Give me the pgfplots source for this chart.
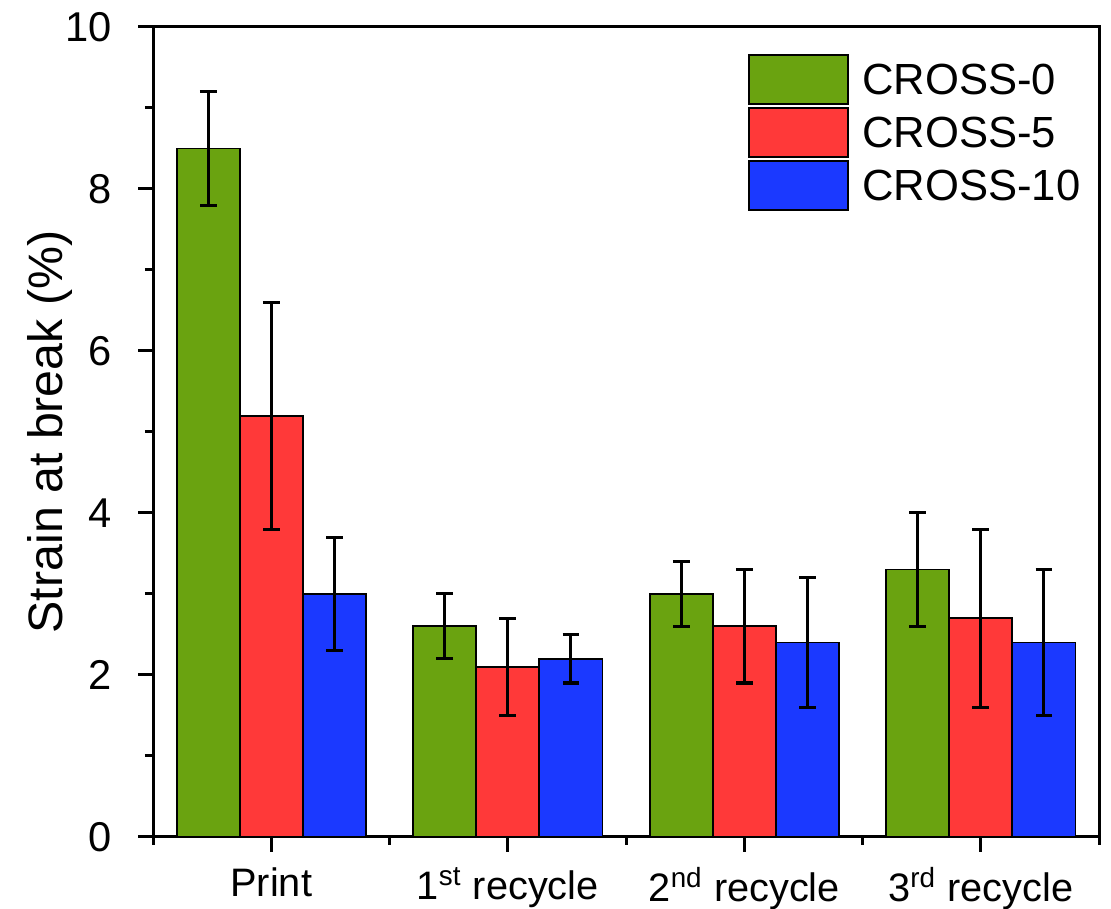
\documentclass[border=0pt]{standalone}
\usepackage{pgfplots}
\pgfplotsset{compat=1.18}
\usepackage{fontspec}
\setmainfont{Liberation Sans}
\definecolor{cgreen}{RGB}{106,163,16}
\definecolor{cred}{RGB}{255,57,57}
\definecolor{cblue}{RGB}{27,57,255}
\begin{document}
\begin{tikzpicture}
\useasboundingbox (-55.1pt,-25.9pt) rectangle (344.9pt,301.3pt);
\begin{axis}[
  at={(0,0)}, anchor=south west,
  scale only axis, width=340.6pt, height=291.6pt,
  xmin=-0.5, xmax=3.5, ymin=0, ymax=10,
  ybar=0pt, bar width=22.7pt,
  xtick={0,1,2,3},
  xticklabels={Print, 1\textsuperscript{st} recycle, 2\textsuperscript{nd} recycle, 3\textsuperscript{rd} recycle},
  minor xtick={-0.5,0.5,1.5,2.5,3.5},
  ytick={0,2,4,6,8,10},
  minor ytick={1,3,5,7,9},
  tick pos=left, tick align=outside,
  major tick length=5.4pt, minor tick length=2.9pt,
  every tick/.style={line width=1.1pt, black},
  axis line style={line width=1.1pt},
  /pgf/number format/assume math mode=true,
  ticklabel style={font=\fontsize{15}{17}\selectfont},
  xticklabel style={font=\fontsize{14.3}{16}\selectfont, yshift=-2pt},
  yticklabel style={xshift=-6pt},
  ylabel={Strain at break (\%)},
  ylabel style={font=\fontsize{17.4}{20}\selectfont, at={(axis description cs:-0.109,0.5)}, anchor=center},
  legend style={draw=none, fill=none, at={(axis description cs:0.628,0.967)}, anchor=north west,
    font=\fontsize{15.7}{18}\selectfont, row sep=0.7pt, column sep=5pt, inner sep=0pt,
    nodes={inner sep=0pt, anchor=west, text height=11pt, text depth=0pt}},
  legend cell align=left,
  legend image code/.code={\draw[#1, line width=0.7pt] (0pt,-8.8pt) rectangle (35.6pt,8.8pt);},
  error bars/error bar style={line width=1.1pt, black},
  error bars/error mark options={rotate=90, mark size=3pt, line width=1.1pt, black},
]
\addplot[fill=cgreen, draw=black, line width=0.6pt,
  error bars/.cd, y dir=both, y explicit]
  coordinates {(0,8.5) +- (0,0.7) (1,2.6) +- (0,0.4) (2,3.0) +- (0,0.4) (3,3.3) +- (0,0.7)};
\addplot[fill=cred, draw=black, line width=0.6pt,
  error bars/.cd, y dir=both, y explicit]
  coordinates {(0,5.2) +- (0,1.4) (1,2.1) +- (0,0.6) (2,2.6) +- (0,0.7) (3,2.7) +- (0,1.1)};
\addplot[fill=cblue, draw=black, line width=0.6pt,
  error bars/.cd, y dir=both, y explicit]
  coordinates {(0,3.0) +- (0,0.7) (1,2.2) +- (0,0.3) (2,2.4) +- (0,0.8) (3,2.4) +- (0,0.9)};
\legend{CROSS-0, CROSS-5, CROSS-10}
\end{axis}
\end{tikzpicture}
\end{document}
